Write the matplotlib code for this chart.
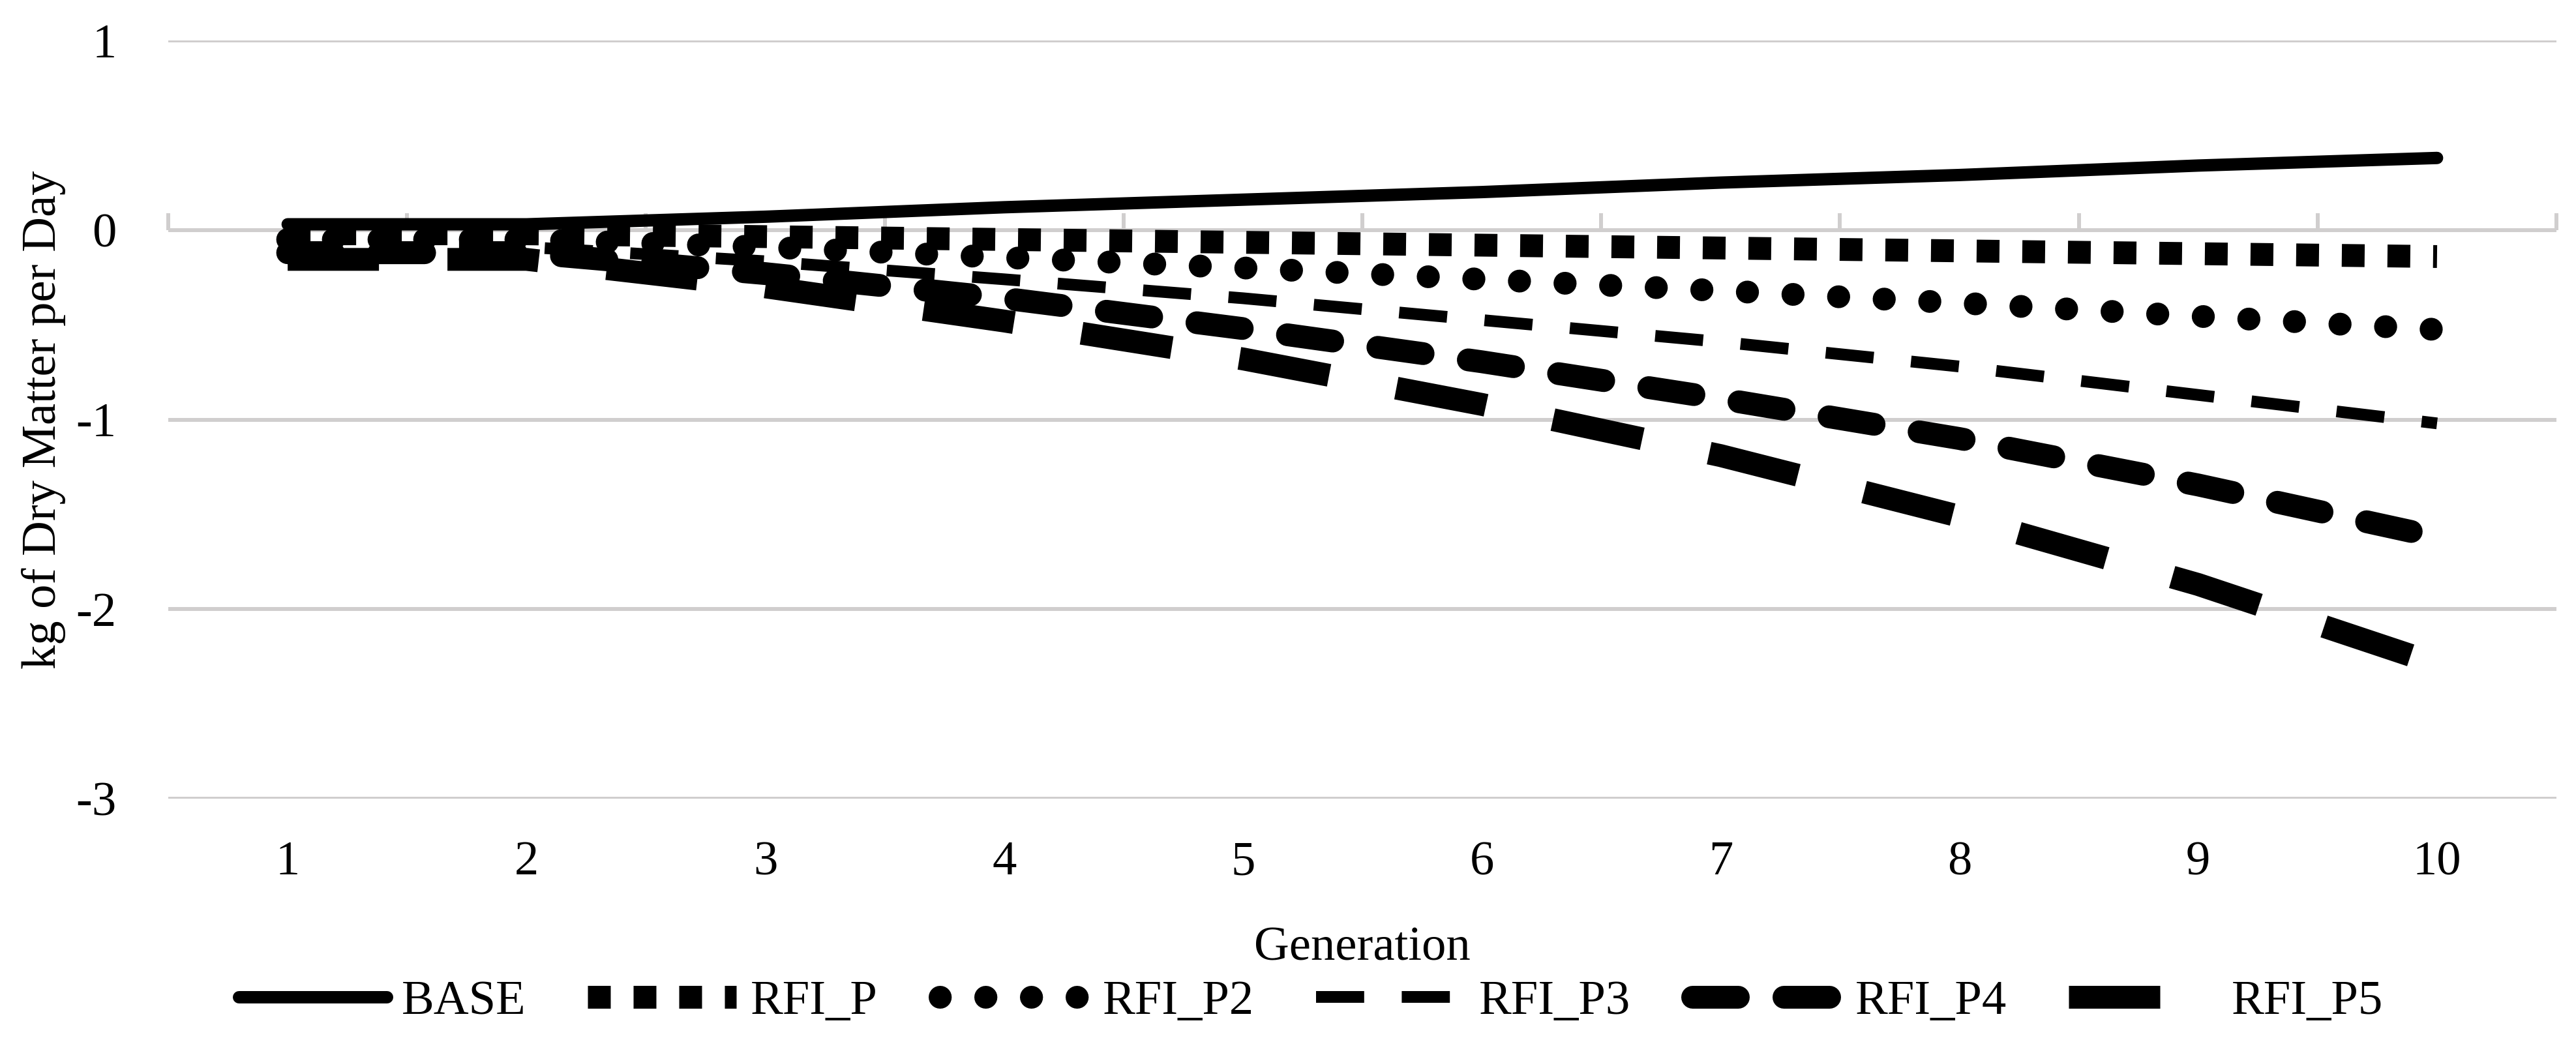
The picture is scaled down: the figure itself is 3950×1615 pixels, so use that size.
import numpy as np
import matplotlib
matplotlib.use("Agg")
import matplotlib.pyplot as plt

plt.rcParams['font.family'] = ['Liberation Serif', 'DejaVu Serif']
plt.rcParams['axes.unicode_minus'] = False

generations = [1, 2, 3, 4, 5, 6, 7, 8, 9, 10]
series_names = ["BASE", "RFI_P", "RFI_P2", "RFI_P3", "RFI_P4", "RFI_P5"]
base = [0.03, 0.03, 0.07, 0.12, 0.16, 0.20, 0.25, 0.29, 0.34, 0.38]
rfi_p = [-0.02, -0.02, -0.035, -0.05, -0.065, -0.08, -0.095, -0.11, -0.125, -0.14]
rfi_p2 = [-0.05, -0.05, -0.09, -0.145, -0.20, -0.26, -0.32, -0.385, -0.455, -0.525]
rfi_p3 = [-0.09, -0.09, -0.165, -0.26, -0.36, -0.475, -0.59, -0.72, -0.87, -1.02]
rfi_p4 = [-0.12, -0.12, -0.23, -0.36, -0.52, -0.695, -0.89, -1.10, -1.345, -1.62]
rfi_p5 = [-0.155, -0.155, -0.30, -0.48, -0.68, -0.92, -1.19, -1.51, -1.87, -2.29]
y_ticks = [-3, -2, -1, 0, 1]

W, H, DPI = 3950, 1615, 250
fig = plt.figure(figsize=(W / DPI, H / DPI), dpi=DPI)
px = 72.0 / DPI  # points per pixel

left, right, top, bottom = 258, 3920, 62, 1225
ax = fig.add_axes([left / W, 1 - bottom / H, (right - left) / W, (bottom - top) / H])

grid_col = '#d0cece'
fs = 21.5

thin = 19 * px
thick = 35 * px
styles = [
    dict(lw=thin, ls='-', solid_capstyle='round'),
    dict(lw=thick, ls=(0, (1, 1)), dash_capstyle='butt'),
    dict(lw=thick, ls=(0, (0.01, 1.99)), dash_capstyle='round'),
    dict(lw=18 * px, ls=(0, (4.1, 3.2)), dash_capstyle='butt'),
    dict(lw=thick, ls=(0, (2, 2)), dash_capstyle='round'),
    dict(lw=thick, ls=(0, (4, 3)), dash_capstyle='butt'),
]
data = [base, rfi_p, rfi_p2, rfi_p3, rfi_p4, rfi_p5]
for name, vals, st in zip(series_names, data, styles):
    ax.plot(generations, vals, color='black', label=name, **st)

ax.set_xlim(0.5, 10.5)
ax.set_ylim(-3, 1)
ax.set_yticks(y_ticks)
ax.set_yticklabels([str(v) for v in y_ticks])
ax.set_xticks(generations)
ax.set_xticklabels([str(g) for g in generations])
ax.grid(axis='y', color=grid_col, lw=6 * px)
ax.set_axisbelow(True)
for s in ax.spines.values():
    s.set_visible(False)
ax.tick_params(axis='x', length=0, pad=18.7, labelsize=fs)
ax.tick_params(axis='y', length=0, pad=22.8, labelsize=fs)

# zero-line category axis with ticks between categories
sec = ax.secondary_xaxis(0.75)
sec.set_xticks(np.arange(0.5, 11, 1))
sec.set_xticklabels([])
sec.tick_params(axis='x', direction='out', length=26 * px, width=6 * px, color=grid_col)
sec.spines['bottom'].set_color(grid_col)
sec.spines['bottom'].set_linewidth(6 * px)
for k in ['top', 'left', 'right']:
    sec.spines[k].set_visible(False)

ax.set_xlabel("Generation", fontsize=fs)
ax.xaxis.label.set_verticalalignment('center')
ax.xaxis.set_label_coords(0.5, (bottom - 1455) / (bottom - top))
ax.set_ylabel("kg of Dry Matter per Day", fontsize=fs)
ax.yaxis.label.set_verticalalignment('center')
ax.yaxis.set_label_coords((67 - left) / (right - left), 0.5)

leg = ax.legend(loc='center', bbox_to_anchor=(2010 / W, 1 - 1537 / H),
                bbox_transform=fig.transFigure, ncol=6, frameon=False,
                fontsize=fs, handlelength=3.05, handletextpad=0.3,
                columnspacing=1.27, borderpad=0, borderaxespad=0)

fig.savefig("out.png", dpi=DPI, facecolor='white')
